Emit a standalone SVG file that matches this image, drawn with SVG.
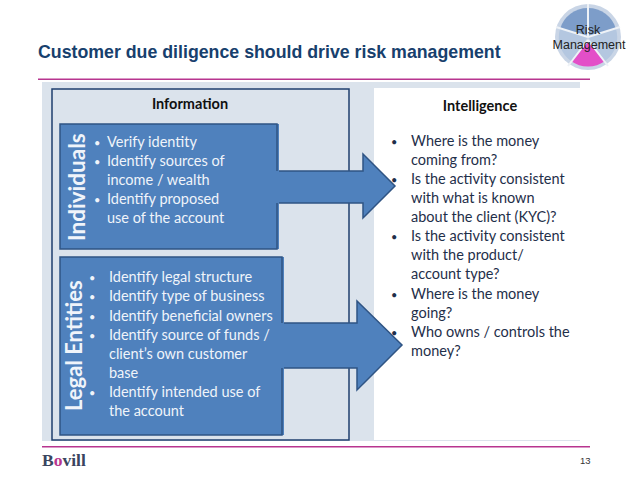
<svg xmlns="http://www.w3.org/2000/svg" width="638" height="479" viewBox="0 0 638 479">
<style>
.c{font-family:Lato,"Open Sans",sans-serif;font-size:14.5px}
.w{fill:#f0f4fa}
.d{fill:#1f2f4a}
.b{font-weight:700}
.box{fill:#4f81bd;stroke:#2f5484;stroke-width:1.5}
.fill{fill:#4f81bd;stroke:none}
.edge{fill:none;stroke:#2f5484;stroke-width:1.5}
.a{font-family:"Liberation Sans",Arial,sans-serif}
.dot{font-size:11px}
</style>
<rect width="638" height="479" fill="#fff"/>
<g id="header">
<text class="a" x="38" y="58" font-size="17.75" font-weight="700" fill="#17406d">Customer due diligence should drive risk management</text>
<rect x="38" y="78.5" width="552" height="1.5" fill="#b8358f"/>
</g>
<g id="risk-wheel">
<circle cx="588" cy="37" r="33" fill="#c9d5e6"/>
<path d="M588 8A29 29 0 0 1 616 29L588 37Z" fill="#7d9dc9"/>
<path d="M588 8A29 29 0 0 0 560 29L588 37Z" fill="#7d9dc9"/>
<path d="M616 29A29 29 0 0 1 605 61L588 37Z" fill="#b4c7e0"/>
<path d="M560 29A29 29 0 0 0 571 61L588 37Z" fill="#b4c7e0"/>
<path d="M571 61A29 29 0 0 0 605 61L588 42Z" fill="#e34fc8"/>
<path d="M588 4V37M588 37L620 27M588 37L556 27M588 40L608 66M588 40L568 66" stroke="#eef2f7" stroke-width="2" fill="none"/>
<text class="a" x="588" y="34" font-size="12.5" text-anchor="middle" fill="#222">Risk</text>
<text class="a" x="589" y="49" font-size="12.5" text-anchor="middle" fill="#222">Management</text>
</g>
<rect id="panel" x="42" y="82" width="538" height="359" fill="#dbe3ec"/>
<g id="information">
<rect x="52" y="89" width="297" height="351" fill="#dbe3ec" stroke="#1f3f6e" stroke-width="1.5"/>
<text class="c b" x="190" y="109" text-anchor="middle" fill="#111" font-size="15">Information</text>
</g>
<g id="intelligence">
<rect x="374" y="88" width="206" height="352" fill="#fff"/>
<text class="c b" x="480" y="111" text-anchor="middle" fill="#111">Intelligence</text>
<g class="c d">
<text class="dot" x="391" y="146">•</text><text x="411" y="146">Where is the money</text>
<text x="411" y="165">coming from?</text>
<text class="dot" x="391" y="184">•</text><text x="411" y="184">Is the activity consistent</text>
<text x="411" y="203">with what is known</text>
<text x="411" y="222">about the client (KYC)?</text>
<text class="dot" x="391" y="241">•</text><text x="411" y="241">Is the activity consistent</text>
<text x="411" y="260">with the product/</text>
<text x="411" y="279">account type?</text>
<text class="dot" x="391" y="299">•</text><text x="411" y="299">Where is the money</text>
<text x="411" y="318">going?</text>
<text class="dot" x="391" y="337">•</text><text x="411" y="337">Who owns / controls the</text>
<text x="411" y="356">money?</text>
</g>
</g>
<g id="connectors">
<path class="box" d="M277 171H363V154L395 186L363 218V203H277Z"/>
<path class="box" d="M282 323H357V301L402 345L357 390V368H282Z"/>
</g>
<g id="individuals">
<rect class="fill" x="60" y="124" width="219" height="125"/>
<path class="edge" d="M277 171V124H60V249H277V203"/>
<text class="w b" transform="translate(85 241) rotate(-90)" font-family="Lato,'Open Sans',sans-serif" font-size="22.5">Individuals</text>
<g class="c w">
<text class="dot" x="94" y="147">•</text><text x="107" y="147">Verify identity</text>
<text class="dot" x="94" y="166">•</text><text x="107" y="166">Identify sources of</text>
<text x="107" y="185">income / wealth</text>
<text class="dot" x="94" y="204">•</text><text x="107" y="204">Identify proposed</text>
<text x="107" y="223">use of the account</text>
</g>
</g>
<g id="legal-entities">
<rect class="fill" x="60" y="257" width="224" height="178"/>
<path class="edge" d="M282 323V257H60V435H282V368"/>
<text class="w b" transform="translate(82 411) rotate(-90)" font-family="Lato,'Open Sans',sans-serif" font-size="22">Legal Entities</text>
<g class="c w">
<text class="dot" x="89" y="282">•</text><text x="109" y="282">Identify legal structure</text>
<text class="dot" x="89" y="301">•</text><text x="109" y="301">Identify type of business</text>
<text class="dot" x="89" y="321">•</text><text x="109" y="321">Identify beneficial owners</text>
<text class="dot" x="89" y="340">•</text><text x="109" y="340">Identify source of funds /</text>
<text x="109" y="359">client’s own customer</text>
<text x="109" y="378">base</text>
<text class="dot" x="89" y="397">•</text><text x="109" y="397">Identify intended use of</text>
<text x="109" y="416">the account</text>
</g>
</g>
<g id="footer">
<rect x="42" y="446" width="548" height="1.5" fill="#b8358f"/>
<text x="42" y="466" font-family="Liberation Serif,serif" font-size="17.5" font-weight="700" fill="#3a4560">B<tspan fill="#b8358f">o</tspan>vill</text>
<text class="a" x="580" y="464" font-size="9.5" fill="#333">13</text>
</g>
</svg>
